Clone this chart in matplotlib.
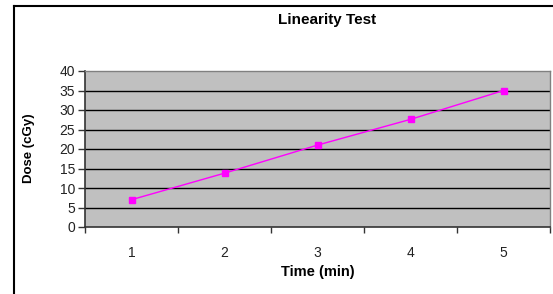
import numpy as np
import matplotlib.pyplot as plt
from matplotlib.lines import Line2D

plt.rcParams['font.family'] = ['Liberation Sans', 'DejaVu Sans']

# data
time_min = [1, 2, 3, 4, 5]
dose_cgy = [7.0, 13.8, 21.0, 27.6, 35.0]
y_ticks = [0, 5, 10, 15, 20, 25, 30, 35, 40]

fig = plt.figure(figsize=(5.53, 2.94), dpi=100)
ax = fig.add_axes([85/553, 1 - 227/294, 465/553, 156/294])

ax.set_facecolor('#C0C0C0')
x = np.arange(len(time_min)) + 1
ax.plot(x, dose_cgy, color='#FF00FF', lw=1, marker='s', ms=5,
        markerfacecolor='#FF00FF', markeredgecolor='#FF00FF', zorder=3)

ax.set_ylim(0, 40)
ax.set_yticks(y_ticks)
for v in y_ticks[1:-1]:
    ax.axhline(v, color='black', lw=1, zorder=1)

ax.set_xlim(0.5, len(time_min) + 0.5)
ax.set_xticks(np.arange(0.5, len(time_min) + 1, 1))
ax.set_xticklabels([])
ax.set_xticks(x, minor=True)
ax.set_xticklabels([str(t) for t in time_min], minor=True)
ax.tick_params(axis='x', which='major', length=4, width=1, color='#333333', direction='out')
ax.tick_params(axis='x', which='minor', length=0, pad=14, labelsize=10, labelcolor='#222222')
ax.tick_params(axis='y', length=5, width=1, color='#333333', direction='out', pad=2,
               labelsize=10, labelcolor='#222222')

for s in ['top', 'right']:
    ax.spines[s].set_color('#808080')
    ax.spines[s].set_linewidth(1)
for s in ['left', 'bottom']:
    ax.spines[s].set_color('#333333')
    ax.spines[s].set_linewidth(1.2)

fig.text(327/553, 1 - 20/294, 'Linearity Test', ha='center', va='center',
         fontsize=11, fontweight='bold')
fig.text(318/553, 1 - 272/294, 'Time (min)', ha='center', va='center',
         fontsize=10.5, fontweight='bold')
fig.text(29/553, 1 - 148/294, 'Dose (cGy)', ha='center', va='center',
         fontsize=9.5, fontweight='bold', rotation=90)

# outer frame (left and top edges visible)
fig.add_artist(Line2D([14/553, 14/553], [0, 1 - 6/294], transform=fig.transFigure,
                      color='black', lw=1.5))
fig.add_artist(Line2D([14/553, 1], [1 - 6/294, 1 - 6/294], transform=fig.transFigure,
                      color='black', lw=1.5))

plt.savefig('out.png', dpi=100)
